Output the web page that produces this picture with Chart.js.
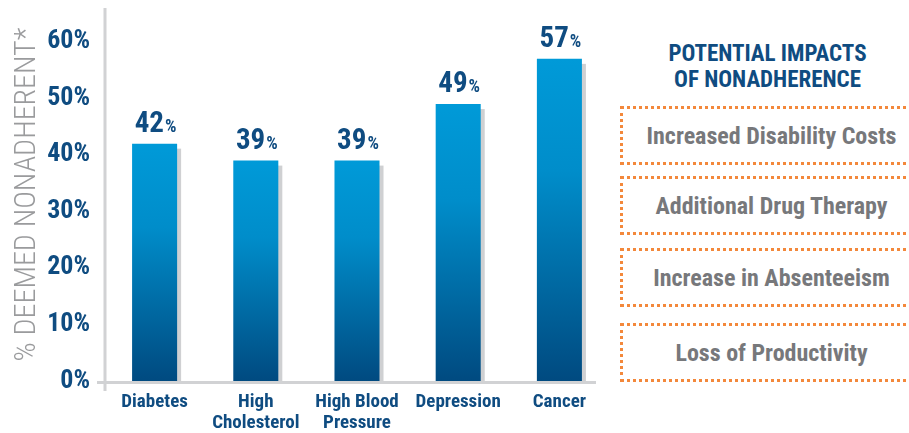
<!DOCTYPE html>
<html>
<head>
<meta charset="utf-8">
<script src="https://cdn.jsdelivr.net/npm/chart.js@4"></script>
<style>
  html, body { margin: 0; padding: 0; background: #fff; }
  body { width: 909px; height: 433px; position: relative; overflow: hidden; }
  #chart-wrap { position: absolute; left: 0; top: 0; width: 620px; height: 433px; }
  #impacts { position: absolute; left: 620px; top: 0; width: 295px; height: 433px;
    font-family: 'Roboto Condensed', 'Liberation Sans Narrow', 'DejaVu Sans Condensed', sans-serif; font-weight: bold; }
  #impacts h2 { position: absolute; left: 0; top: 41px; width: 295px; margin: 0; text-align: center;
    font-size: 23px; line-height: 26px; color: #0f4c81; font-weight: bold; }
  .impact { position: absolute; left: 0; width: 300px; box-sizing: border-box;
    border: 3px dotted #f3883b; border-right: none;
    display: flex; align-items: center; justify-content: center; }
  .impact span { display: block; width: 295px; text-align: center; font-size: 24px; color: #77787b; }
</style>
</head>
<body>
<div id="chart-wrap"><canvas id="chart"></canvas></div>
<div id="impacts"><h2>POTENTIAL IMPACTS<br>OF NONADHERENCE</h2></div>
<script>
// --- données ---
const categories = [['Diabetes'], ['High', 'Cholesterol'], ['High Blood', 'Pressure'], ['Depression'], ['Cancer']];
const nonadherent = [42, 39, 39, 49, 57];
const yTicks = [0, 10, 20, 30, 40, 50, 60];
const impacts = ['Increased Disability Costs', 'Additional Drug Therapy', 'Increase in Absenteeism', 'Loss of Productivity'];
const impactTops = [106, 176, 248, 323];

const COND = "'Roboto Condensed', 'Liberation Sans Narrow', 'DejaVu Sans Condensed', sans-serif";
const BLUE_TEXT = '#0f4c81';

// --- panneau de droite ---
const panel = document.getElementById('impacts');
impacts.forEach((txt, i) => {
  const box = document.createElement('div');
  box.className = 'impact';
  box.style.top = impactTops[i] + 'px';
  box.style.height = '59px';
  const s = document.createElement('span');
  s.textContent = txt;
  box.appendChild(s);
  panel.appendChild(box);
});

// axes gris + ombre décalée derrière chaque barre
const barShadow = {
  id: 'barShadow',
  beforeDatasetsDraw(chart) {
    const ctx = chart.ctx;
    const a = chart.chartArea;
    ctx.save();
    ctx.strokeStyle = '#d1d2d4';
    ctx.lineWidth = 3;
    ctx.beginPath();
    ctx.moveTo(a.left + 1, a.top);
    ctx.lineTo(a.left + 1, a.bottom + 10);
    ctx.moveTo(a.left - 7, a.bottom + 1.5);
    ctx.lineTo(a.right - 14, a.bottom + 1.5);
    ctx.stroke();
    ctx.fillStyle = '#cfd0d2';
    chart.getDatasetMeta(0).data.forEach(bar => {
      const left = bar.x - bar.width / 2 + 4;
      ctx.fillRect(left, bar.y + 5, bar.width, bar.base - bar.y - 5);
    });
    ctx.restore();
  }
};

// étiquettes de valeur "42%" au-dessus des barres
const valueLabels = {
  id: 'valueLabels',
  afterDatasetsDraw(chart) {
    const ctx = chart.ctx;
    ctx.save();
    ctx.fillStyle = BLUE_TEXT;
    ctx.textBaseline = 'alphabetic';
    ctx.textAlign = 'left';
    chart.getDatasetMeta(0).data.forEach((bar, i) => {
      const num = String(nonadherent[i]);
      ctx.font = 'bold 29px ' + COND;
      const wNum = ctx.measureText(num).width;
      ctx.font = 'bold 18px ' + COND;
      const wPct = ctx.measureText('%').width;
      const x0 = bar.x + 1 - (wNum + 1 + wPct) / 2;
      const yb = bar.y - 12;
      ctx.font = 'bold 29px ' + COND;
      ctx.fillText(num, x0, yb);
      ctx.font = 'bold 18px ' + COND;
      ctx.fillText('%', x0 + wNum + 1, yb);
    });
    ctx.restore();
  }
};

function barGradient(c) {
  const chart = c.chart;
  if (!chart.chartArea || c.type !== 'data') return '#0099d8';
  const y = chart.scales.y;
  const top = y.getPixelForValue(nonadherent[c.dataIndex]);
  const bottom = y.getPixelForValue(0);
  const g = chart.ctx.createLinearGradient(0, top, 0, bottom);
  g.addColorStop(0, '#009ad8');
  g.addColorStop(0.35, '#008dca');
  g.addColorStop(1, '#004a80');
  return g;
}

new Chart(document.getElementById('chart'), {
  type: 'bar',
  data: {
    labels: categories,
    datasets: [{
      data: nonadherent,
      backgroundColor: barGradient,
      barPercentage: 0.445,
      categoryPercentage: 1
    }]
  },
  options: {
    responsive: true,
    maintainAspectRatio: false,
    animation: false,
    layout: { padding: { top: 8, right: 10, left: 0, bottom: 0 } },
    plugins: { legend: { display: false }, tooltip: { enabled: false } },
    scales: {
      x: {
        grid: { display: false },
        border: { display: false },
        ticks: {
          color: BLUE_TEXT, padding: 3, maxRotation: 0, autoSkip: false,
          font: { family: COND, size: 19, weight: 'bold', lineHeight: 1.1 }
        },
        afterFit(scale) { scale.height = 52; scale.paddingLeft = 0; scale.paddingRight = 0; }
      },
      y: {
        min: 0, max: 66,
        grid: { display: false },
        border: { display: false },
        afterBuildTicks(scale) { scale.ticks = yTicks.map(v => ({ value: v })); },
        ticks: {
          color: BLUE_TEXT, padding: 6,
          font: { family: COND, size: 26, weight: 'bold' },
          callback: v => v + '%'
        },
        title: {
          display: true,
          text: '% DEEMED NONADHERENT*',
          color: '#9a9b9d',
          padding: { top: 9, bottom: 0 },
          font: { family: COND, size: 30, weight: 300 }
        },
        afterFit(scale) { scale.width = 104; scale.paddingTop = 0; scale.paddingBottom = 0; }
      }
    }
  },
  plugins: [barShadow, valueLabels]
});
</script>
</body>
</html>
